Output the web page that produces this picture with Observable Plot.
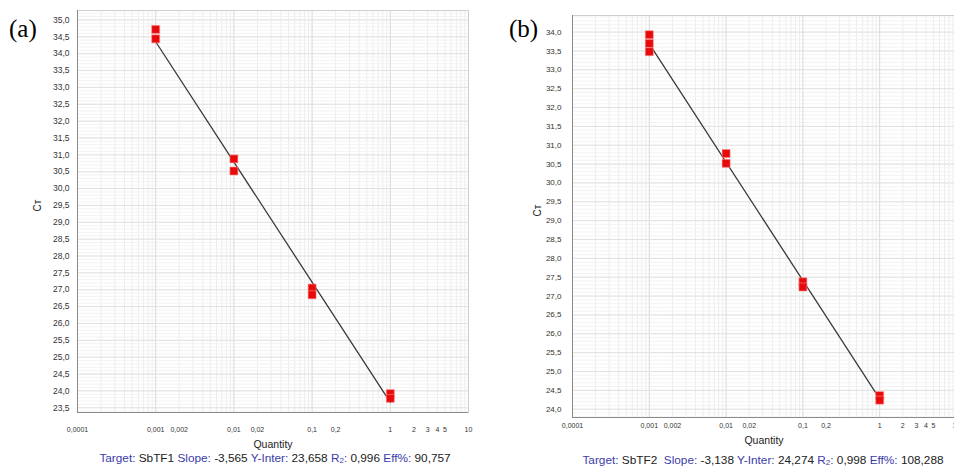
<!DOCTYPE html>
<html><head><meta charset="utf-8">
<script src="https://cdn.jsdelivr.net/npm/d3@7"></script>
<script src="https://cdn.jsdelivr.net/npm/@observablehq/plot@0.6"></script>
<style>
body{margin:0;width:954px;height:468px;overflow:hidden;background:#fff;font-family:"Liberation Sans",Arial,sans-serif;position:relative}
.panel{position:absolute;top:0;width:480px;height:450px;overflow:visible}
.panel svg{max-width:none !important}
.lab{position:absolute;font-family:"Liberation Serif","Times New Roman",serif;font-size:25px;line-height:1;color:#000}
.cap{position:absolute;font-size:11.8px;line-height:1;white-space:nowrap;color:#222;transform:translateX(-50%)}
.cap b{font-weight:normal;color:#3b3ba8}
.cap sub{font-size:8px;vertical-align:-1px}
.qty{position:absolute;font-size:10.5px;line-height:1;color:#222;transform:translateX(-50%)}
</style></head><body>
<div id="pa" class="panel" style="left:0"></div>
<div id="pb" class="panel" style="left:480px"></div>
<div class="lab" style="left:9px;top:16px">(a)</div>
<div class="lab" style="left:509px;top:16px">(b)</div>
<div class="qty" style="left:273px;top:439px">Quantity</div>
<div class="qty" style="left:764px;top:435px">Quantity</div>
<div class="cap" style="left:275px;top:453px"><b>Target:</b> SbTF1 <b>Slope:</b> -3,565 <b>Y-Inter:</b> 23,658 <b>R<sub>2</sub>:</b> 0,996 <b>Eff%:</b> 90,757</div>
<div class="cap" style="left:763px;top:455px"><b>Target:</b> SbTF2&nbsp; <b>Slope:</b> -3,138 <b>Y-Inter:</b> 24,274 <b>R<sub>2</sub>:</b> 0,998 <b>Eff%:</b> 108,288</div>
<script>
// Panel (a) data: SbTF1
const qtyA = [0.001, 0.001, 0.01, 0.01, 0.1, 0.1, 1, 1];
const ctA = [34.72, 34.44, 30.88, 30.52, 27.05, 26.85, 23.92, 23.78];
const slopeA = -3.565, interA = 23.658;
// Panel (b) data: SbTF2
const qtyB = [0.001, 0.001, 0.001, 0.01, 0.01, 0.1, 0.1, 1, 1];
const ctB = [33.93, 33.70, 33.48, 30.78, 30.52, 27.38, 27.24, 24.36, 24.24];
const slopeB = -3.138, interB = 24.274;
// Standard curve spans the dilution range
const fitQty = [0.001, 1];
// Axis ticks
const xTicks = [0.0001, 0.001, 0.002, 0.01, 0.02, 0.1, 0.2, 1, 2, 3, 4, 5, 10];
const xTickLabels = ["0,0001", "0,001", "0,002", "0,01", "0,02", "0,1", "0,2", "1", "2", "3", "4", "5", "10"];
const yTicksA = [23.5,24,24.5,25,25.5,26,26.5,27,27.5,28,28.5,29,29.5,30,30.5,31,31.5,32,32.5,33,33.5,34,34.5,35];
const yTicksB = [24,24.5,25,25.5,26,26.5,27,27.5,28,28.5,29,29.5,30,30.5,31,31.5,32,32.5,33,33.5,34];

const decades = [0.0001, 0.001, 0.01, 0.1, 1, 10];
const minorX = d3.merge(decades.slice(0, -1).map(d => d3.range(2, 10).map(k => d * k)));

function panel(o) {
  const pts = o.qty.map((q, i) => ({q, ct: o.ct[i]}));
  const fit = fitQty.map(q => ({q, ct: o.inter + o.slope * Math.log10(q)}));
  const minorY = d3.range(Math.ceil(o.domain[0] * 10) / 10, o.domain[1], 0.1);
  const xlab = xTicks.map((q, i) => ({q, t: xTickLabels[i]}));
  return Plot.plot({
    width: o.width, height: o.height,
    marginLeft: o.ml, marginRight: o.mr, marginTop: o.mt, marginBottom: o.mb,
    style: {fontFamily: '"Liberation Sans", Arial, sans-serif', color: "#333", background: "transparent", maxWidth: "none", overflow: "visible"},
    x: {type: "log", domain: [0.0001, 10], axis: null},
    y: {domain: o.domain},
    marks: [
      Plot.ruleX(minorX, {stroke: "#ececec", strokeWidth: 1}),
      Plot.ruleY(minorY, {stroke: "#f3f3f3", strokeWidth: 1}),
      Plot.ruleX(decades, {stroke: "#d9d9d9", strokeWidth: 1}),
      Plot.ruleY(o.yTicks, {stroke: "#e1e1e1", strokeWidth: 1}),
      Plot.frame({stroke: "#cfcfcf"}),
      Plot.ruleX([0.0001], {stroke: "#8a8a8a"}),
      Plot.ruleY([o.domain[0]], {stroke: "#8a8a8a"}),
      Plot.text(xlab, {x: "q", text: "t", frameAnchor: "bottom", lineAnchor: "top", dy: o.xpad,
        fontSize: o.xfs, fill: "#333"}),
      Plot.axisY({ticks: o.yTicks, tickFormat: d => d.toFixed(1).replace(".", ","), tickSize: 0,
        tickPadding: o.ypad, fontSize: o.yfs, label: null}),
      Plot.text(["C\u1D1B"], {frameAnchor: "left", dx: o.cdx, rotate: -90, fontSize: 10, fill: "#222"}),
      Plot.line(fit, {x: "q", y: "ct", stroke: "#3a3a3a", strokeWidth: 1.3}),
      Plot.dot(pts, {x: "q", y: "ct", symbol: "square", r: 4.5, fill: "#e60a0a", stroke: "#ff8a8a", strokeWidth: 0.6})
    ]
  });
}

document.getElementById("pa").append(panel({
  qty: qtyA, ct: ctA, slope: slopeA, inter: interA, yTicks: yTicksA,
  domain: [23.36, 35.28], width: 477, height: 450, ml: 77, mr: 9, mt: 10, mb: 38,
  xpad: 15, ypad: 8, xfs: 7, yfs: 8.5, cdx: -40
}));
document.getElementById("pb").append(panel({
  qty: qtyB, ct: ctB, slope: slopeB, inter: interB, yTicks: yTicksB,
  domain: [23.78, 34.44], width: 480, height: 450, ml: 92, mr: 4, mt: 15, mb: 33,
  xpad: 6, ypad: 11, xfs: 7, yfs: 8, cdx: -35
}));
</script>
</body></html>
